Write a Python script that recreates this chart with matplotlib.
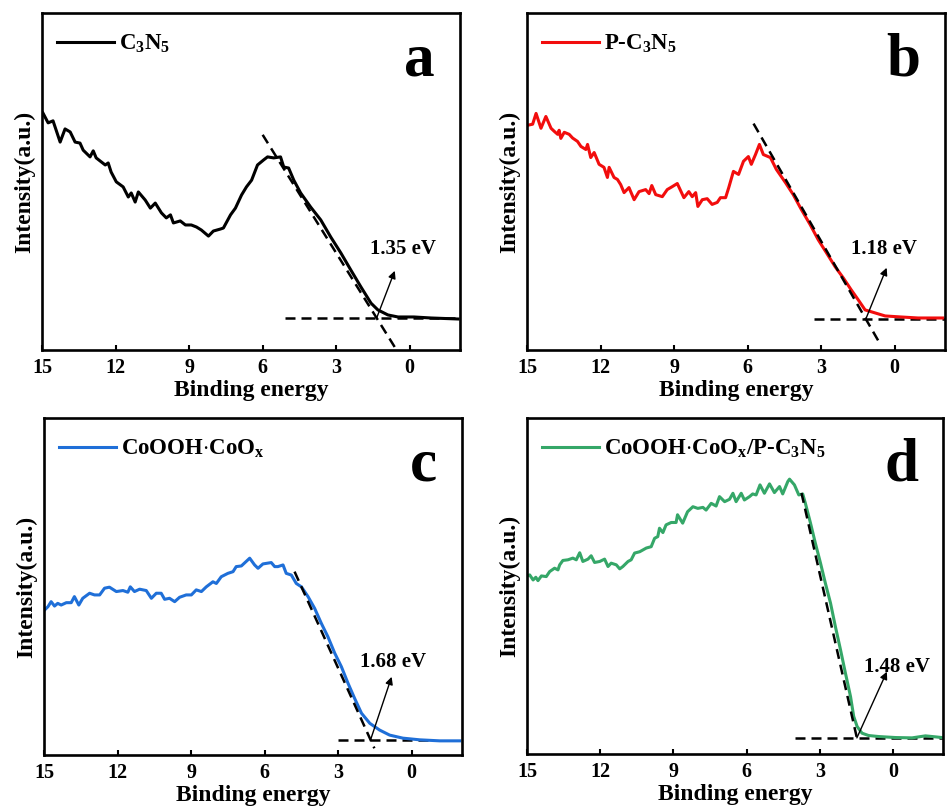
import matplotlib
matplotlib.use("Agg")
import matplotlib.pyplot as plt

plt.rcParams['font.family'] = ['Liberation Serif', 'DejaVu Serif']
plt.rcParams['font.weight'] = 'bold'
plt.rcParams['mathtext.fontset'] = 'custom'
plt.rcParams['mathtext.rm'] = 'Liberation Serif:bold'
plt.rcParams['mathtext.it'] = 'Liberation Serif:bold'
plt.rcParams['mathtext.bf'] = 'Liberation Serif:bold'

# ---- VB-XPS spectra (binding energy in eV, intensity in a.u.) ----
e_a = [14.96, 14.75, 14.55, 14.26, 14.06, 13.85, 13.65, 13.45, 13.32, 13.04, 12.91, 12.79,
       12.42, 12.30, 12.18, 11.97, 11.69, 11.48, 11.36, 11.20, 11.07, 10.79, 10.58, 10.38,
       10.13, 9.93, 9.76, 9.64, 9.36, 9.15, 8.91, 8.70, 8.50, 8.21, 8.01, 7.72, 7.60, 7.31,
       7.11, 6.86, 6.66, 6.45, 6.21, 5.96, 5.80, 5.55, 5.27, 5.14, 4.94, 4.73, 4.45, 4.04,
       3.63, 3.22, 2.81, 2.40, 1.99, 1.58, 1.30, 0.89, 0.48, -0.17, -0.87, -1.97]
i_a = [70.3, 67.4, 68.0, 61.7, 65.6, 64.7, 61.7, 61.4, 59.3, 57.3, 59.1, 57.0,
       54.9, 55.5, 52.8, 49.9, 48.4, 45.4, 46.6, 43.9, 46.9, 44.5, 42.1, 43.6,
       40.7, 39.2, 40.1, 37.7, 38.3, 37.1, 37.1, 36.5, 35.6, 33.8, 35.3, 35.9, 36.2, 40.1,
       42.1, 46.0, 48.4, 50.4, 54.9, 56.4, 57.3, 57.0, 57.3, 54.3, 54.0, 50.4, 46.6, 42.4,
       38.6, 33.5, 28.8, 23.7, 18.7, 13.9, 11.9, 10.4, 9.8, 9.8, 9.5, 9.2]

e_b = [14.97, 14.77, 14.63, 14.43, 14.23, 14.02, 13.89, 13.75, 13.69, 13.62, 13.48, 13.28,
       13.14, 12.94, 12.80, 12.60, 12.53, 12.40, 12.26, 12.06, 11.86, 11.72, 11.65, 11.45,
       11.31, 11.18, 11.04, 10.84, 10.63, 10.43, 10.16, 10.02, 9.91, 9.75, 9.48, 9.28, 9.07,
       8.87, 8.60, 8.40, 8.26, 8.12, 8.03, 7.85, 7.65, 7.45, 7.24, 7.11, 6.90, 6.77, 6.58,
       6.37, 6.17, 5.97, 5.85, 5.68, 5.52, 5.36, 5.07, 4.83, 4.46, 4.14, 3.81, 3.45, 3.12,
       2.79, 2.43, 2.10, 1.78, 1.49, 1.21, 0.80, 0.39, -0.26, -0.95, -1.76, -1.96]
i_b = [66.7, 67.0, 70.2, 65.8, 69.3, 65.8, 64.9, 64.0, 65.2, 62.8, 64.6, 64.0,
       62.9, 61.9, 60.4, 59.5, 61.0, 57.1, 58.6, 55.1, 54.2, 51.2, 54.2, 51.2,
       50.6, 49.1, 46.7, 48.2, 44.6, 47.0, 47.6, 46.4, 48.8, 46.1, 45.5, 47.6, 48.5,
       49.4, 45.2, 47.0, 45.5, 46.7, 42.6, 44.6, 44.9, 43.2, 43.8, 45.2, 45.2, 48.2, 53.0,
       52.1, 56.0, 57.4, 55.1, 58.0, 61.0, 58.0, 57.1, 53.6, 49.7, 46.1, 41.7, 37.2, 32.7,
       28.9, 24.7, 21.4, 17.9, 14.9, 11.9, 11.0, 10.1, 9.8, 9.5, 9.5, 9.5]

e_c = [14.98, 14.84, 14.71, 14.57, 14.44, 14.30, 14.09, 13.89, 13.76, 13.58, 13.42, 13.14,
       12.94, 12.73, 12.53, 12.33, 12.05, 11.78, 11.58, 11.48, 11.31, 11.10, 10.83, 10.62,
       10.42, 10.22, 10.08, 9.88, 9.67, 9.47, 9.20, 8.99, 8.79, 8.58, 8.38, 8.11, 7.97, 7.77,
       7.50, 7.29, 7.16, 6.95, 6.61, 6.41, 6.27, 6.07, 5.73, 5.59, 5.46, 5.25, 5.12, 4.91,
       4.71, 4.50, 4.23, 3.96, 3.69, 3.42, 3.14, 2.87, 2.60, 2.33, 2.05, 1.71, 1.31, 0.90,
       0.36, -0.33, -1.14, -1.96]
i_c = [43.0, 44.0, 45.5, 44.2, 45.0, 44.5, 45.2, 45.2, 47.0, 44.5, 46.5, 48.0,
       47.5, 47.5, 49.5, 49.8, 48.5, 48.8, 48.3, 49.9, 48.5, 49.2, 48.8, 46.5,
       48.0, 48.0, 46.2, 46.5, 45.5, 46.8, 47.5, 47.5, 49.0, 48.5, 49.9, 51.4, 50.9, 52.9,
       53.9, 54.4, 55.9, 56.1, 58.4, 56.4, 55.4, 56.7, 57.1, 55.9, 55.9, 56.4, 53.9, 53.4,
       50.9, 49.9, 47.0, 43.5, 39.1, 35.1, 30.2, 26.2, 21.3, 16.8, 12.4, 9.4, 7.4, 5.9,
       5.0, 4.5, 4.2, 4.2]

e_d = [15.0, 14.89, 14.75, 14.64, 14.55, 14.41, 14.21, 14.07, 13.87, 13.73, 13.66, 13.53,
       13.32, 13.12, 12.98, 12.84, 12.71, 12.50, 12.37, 12.23, 12.02, 11.82, 11.68, 11.55,
       11.34, 11.20, 11.07, 10.86, 10.73, 10.59, 10.38, 10.11, 9.91, 9.77, 9.64, 9.57, 9.43,
       9.30, 9.09, 8.89, 8.83, 8.62, 8.42, 8.20, 8.00, 7.79, 7.66, 7.45, 7.25, 7.11, 6.90,
       6.70, 6.56, 6.43, 6.22, 6.09, 5.88, 5.75, 5.61, 5.45, 5.27, 5.06, 4.86, 4.65, 4.52,
       4.31, 4.24, 4.04, 3.86, 3.70, 3.59, 3.38, 3.18, 2.97, 2.77, 2.56, 2.36, 2.15, 1.95,
       1.74, 1.61, 1.47, 1.27, 1.00, 0.59, -0.10, -0.78, -1.33, -1.74, -2.0]
i_d = [53.0, 53.3, 51.8, 52.6, 51.6, 53.0, 52.8, 54.3, 55.3, 54.8, 56.3, 57.6,
       57.8, 58.3, 57.8, 59.9, 57.3, 58.0, 59.0, 57.0, 57.3, 58.0, 55.8, 56.8,
       56.3, 55.1, 55.8, 57.3, 57.8, 59.8, 60.2, 61.3, 61.7, 64.2, 64.7, 67.2, 65.9,
       68.2, 68.9, 68.9, 71.2, 68.7, 72.1, 73.6, 73.1, 73.4, 72.6, 74.6, 73.8, 76.6, 75.1,
       75.8, 77.6, 75.1, 77.6, 75.6, 76.6, 77.4, 77.1, 80.1, 77.6, 80.4, 77.8, 79.6, 77.4,
       81.1, 81.8, 80.1, 77.1, 77.4, 74.6, 68.7, 62.7, 56.8, 50.8, 44.9, 37.9, 31.0, 24.1,
       17.1, 11.2, 8.2, 6.2, 5.5, 5.2, 4.9, 4.8, 5.4, 5.1, 4.9]

labels = [r'C$_3$N$_5$', r'P-C$_3$N$_5$', r'CoOOH$\cdot$CoO$_x$',
          r'CoOOH$\cdot$CoO$_x$/P-C$_3$N$_5$']
letters = ['a', 'b', 'c', 'd']
colors = ['#000000', '#f20d0d', '#1f6fd8', '#35a768']

# band-edge extrapolation: onset energy, baseline level, tangent slope
gaps = [1.35, 1.18, 1.68, 1.48]
baselines = [9.5, 9.2, 4.5, 4.8]
slopes = [11.69, 12.66, 16.1, 32.1]
tangent_top = [6.0, 5.76, 4.78, 3.75]
tangent_low = [0.9, 2.1, 2.0, 3.5]
base_span = [(5.1, -2.1), (3.3, -2.1), (3.0, -0.85), (4.0, -2.1)]
arrow_vec = [(-0.74, 14.0), (-0.85, 15.2), (-0.86, 18.7), (-1.23, 19.7)]
text_pos = [(0.28, 30.0), (0.44, 30.1), (0.78, 27.6), (-0.15, 26.0)]

spectra = [(e_a, i_a), (e_b, i_b), (e_c, i_c), (e_d, i_d)]

W, H = 950, 811
boxes = [(42, 13, 418, 337), (527, 13, 418, 337), (44, 418, 418, 337), (527, 418, 416, 336)]

fig = plt.figure(figsize=(9.5, 8.11), dpi=100)

for k in range(4):
    x0, y0, w, h = boxes[k]
    ax = fig.add_axes([x0 / W, 1 - (y0 + h) / H, w / W, h / H])
    e, inten = spectra[k]
    ax.plot(e, inten, color=colors[k], lw=2.2, label=labels[k], zorder=2)

    eg, b, s = gaps[k], baselines[k], slopes[k]
    # steep tangent through (eg, baseline)
    e_hi = tangent_top[k]
    e_lo = eg - (b - tangent_low[k]) / s
    ax.plot([e_hi, e_lo], [b + (e_hi - eg) * s, b + (e_lo - eg) * s],
            color='k', lw=1.8, dashes=(4, 2.4), zorder=3)
    # flat baseline
    ax.plot(list(base_span[k]), [b, b], color='k', lw=1.8, dashes=(4, 2.4), zorder=1)

    dx, dy = arrow_vec[k]
    ax.annotate('', xy=(eg + dx, b + dy), xytext=(eg, b),
                arrowprops=dict(arrowstyle='-|>', color='k', lw=1.0, mutation_scale=11,
                                shrinkA=0, shrinkB=0), zorder=4)
    tx, ty = text_pos[k]
    ax.text(tx, ty, f'{eg:.2f} eV', fontsize=15, fontweight='bold',
            ha='center', va='center')

    ax.text(0.94, 0.815, letters[k], transform=ax.transAxes, fontsize=44,
            fontweight='bold', ha='right', va='baseline')

    ax.legend(loc='upper left', bbox_to_anchor=(0.0, 0.985), frameon=False,
              fontsize=16.5, handlelength=2.5, handletextpad=0.2, borderaxespad=0.25)

    ax.set_xlim(15, -2.05)
    ax.set_ylim(0, 100)
    ax.set_xticks([15, 12, 9, 6, 3, 0])
    ax.set_yticks([])
    ax.tick_params(axis='x', direction='in', length=3.6, width=1.5, labelsize=14.5, pad=6)
    for t in ax.get_xticklabels():
        t.set_fontweight('bold')
    for sp in ax.spines.values():
        sp.set_linewidth(1.9)
    ax.set_xlabel('Binding energy', fontsize=17, fontweight='bold', labelpad=1)
    ax.set_ylabel('Intensity(a.u.)', fontsize=17, fontweight='bold', labelpad=5)

fig.savefig('out.png', dpi=100)
